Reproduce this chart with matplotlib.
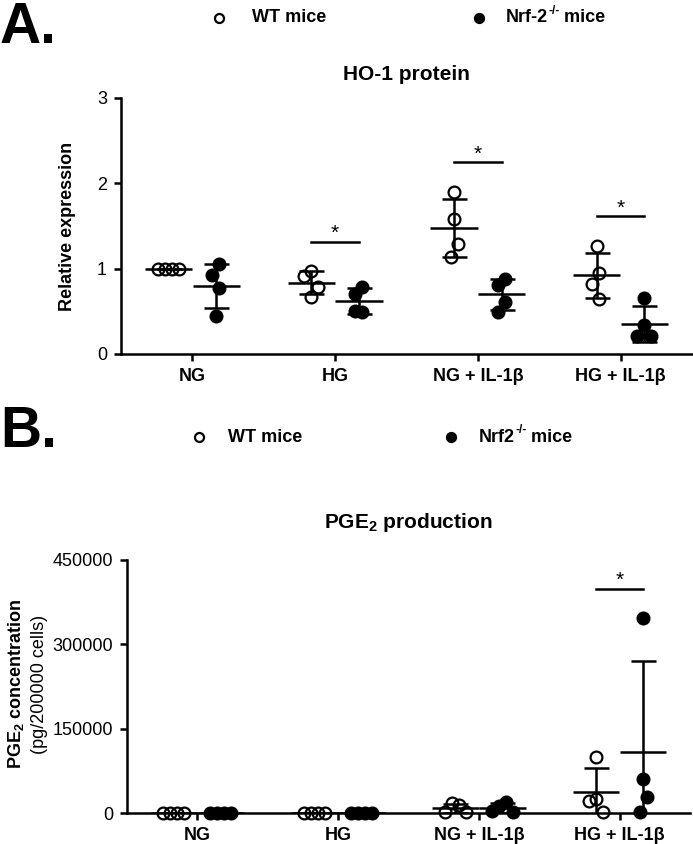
import numpy as np
import matplotlib
matplotlib.use('Agg')
import matplotlib.pyplot as plt
from matplotlib.lines import Line2D

plt.rcParams['font.family'] = ['Liberation Sans', 'DejaVu Sans']
plt.rcParams['mathtext.fontset'] = 'custom'
plt.rcParams['mathtext.rm'] = 'Liberation Sans'
plt.rcParams['mathtext.bf'] = 'Liberation Sans:bold'

categories = ['NG', 'HG', 'NG + IL-1β', 'HG + IL-1β']

# HO-1 protein, relative expression (4 mice per group)
ho1_wt = [[1.00, 1.00, 1.00, 1.00],
          [0.97, 0.91, 0.79, 0.67],
          [1.90, 1.58, 1.29, 1.14],
          [1.27, 0.95, 0.82, 0.64]]
ho1_nrf2 = [[1.05, 0.92, 0.77, 0.45],
            [0.79, 0.70, 0.49, 0.50],
            [0.88, 0.81, 0.61, 0.49],
            [0.66, 0.34, 0.21, 0.21]]
ho1_sig = [1, 2, 3]

# PGE2 concentration, pg / 200000 cells
pge2_wt = [[0, 0, 0, 0],
           [0, 0, 0, 0],
           [14000, 17000, 2000, 2000],
           [100000, 25000, 21000, 2000]]
pge2_nrf2 = [[0, 0, 0, 0],
             [0, 0, 0, 0],
             [20000, 12000, 2000, 3000],
             [347000, 60000, 28000, 1000]]
pge2_sig = [3]

W, H = 693, 844
LW = 1.8
SHIFT = 0.167     # half distance between WT and Nrf2 columns


def fx(px):
    return px / W


def fy(px):
    return 1 - px / H


def swarm(ax, vals, step=7, dx_min=7, dy_min=16):
    # simple beeswarm in pixel space; each crowded cluster is recentred
    ypx = np.array([ax.transData.transform((0, v))[1] for v in vals])
    offs = []
    for i, y in enumerate(ypx):
        k = 0
        while True:
            dx = (k + 1) // 2 * step * (-1 if k % 2 else 1)
            hit = any(((dx - offs[j]) / dx_min) ** 2 +
                      ((y - ypx[j]) / dy_min) ** 2 < 1 for j in range(i))
            if not hit:
                break
            k += 1
        offs.append(dx)
    offs = np.array(offs, dtype=float)
    order = np.argsort(ypx)
    comp = [order[0]]
    for k in list(order[1:]) + [None]:
        if k is not None and ypx[k] - ypx[comp[-1]] < dy_min:
            comp.append(k)
            continue
        offs[comp] -= offs[comp].mean()
        if k is not None:
            comp = [k]
    x_per_px = (ax.get_xlim()[1] - ax.get_xlim()[0]) / ax.bbox.width
    return offs * x_per_px


def draw_group(ax, x, vals, filled):
    vals = np.array(vals, dtype=float)
    xs = x + swarm(ax, vals)
    ax.plot(xs, vals, 'o', ms=8.5, mfc='black' if filled else 'none',
            mec='black', mew=1.6, clip_on=False, zorder=3)
    m = vals.mean()
    s = vals.std(ddof=1)
    ax.hlines(m, x - 0.165, x + 0.165, color='black', lw=LW, zorder=4)
    ax.errorbar(x, m, yerr=s, fmt='none', ecolor='black', elinewidth=LW,
                capsize=9, capthick=LW, zorder=4)
    return max(vals.max(), m + s)


def panel(ax, wt, nrf2, sig, ylim, yticks):
    ax.set_xlim(-0.5, 3.5)
    ax.set_ylim(*ylim)
    ax.set_yticks(yticks)
    ax.set_xticks(range(len(categories)))
    ax.set_xticklabels(categories, fontweight='bold', fontsize=13)
    for sp in ['top', 'right']:
        ax.spines[sp].set_visible(False)
    for sp in ['left', 'bottom']:
        ax.spines[sp].set_linewidth(LW)
    ax.tick_params(width=LW, length=5, labelsize=13, pad=5)
    rng = ylim[1] - ylim[0]
    for i in range(len(categories)):
        t1 = draw_group(ax, i - SHIFT, wt[i], False)
        t2 = draw_group(ax, i + SHIFT, nrf2[i], True)
        if i in sig:
            yb = max(t1, t2) + 0.115 * rng
            ax.plot([i - SHIFT, i + SHIFT], [yb, yb], color='black', lw=LW)
            ax.annotate('*', (i, yb), xytext=(0, 6), textcoords='offset points',
                        ha='center', va='center', fontsize=15)


def legend_row(ax, y, entries):
    fig = ax.figure
    for xm, xt, filled, base, sup, tail in entries:
        fig.add_artist(Line2D([fx(xm)], [fy(y)], marker='o', ms=6.5,
                              mfc='black' if filled else 'none', mec='black',
                              mew=1.6, transform=fig.transFigure))
        t1 = ax.annotate(base, (fx(xt), fy(y)), xycoords='figure fraction',
                         fontsize=13, fontweight='bold', ha='left', va='center')
        if sup:
            t2 = ax.annotate(sup, (1, 0.55), xycoords=t1, fontsize=8.5,
                             fontweight='bold', ha='left', va='bottom')
            ax.annotate(tail, (1, 0), xycoords=(t2, t1), fontsize=13,
                        fontweight='bold', ha='left', va='bottom')


fig = plt.figure(figsize=(W / 100, H / 100), dpi=100)

# ---- A. HO-1 protein
axA = fig.add_axes([fx(121), fy(354), fx(692 - 121), (354 - 98) / H])
panel(axA, ho1_wt, ho1_nrf2, ho1_sig, (0, 3), [0, 1, 2, 3])
fig.text(0.0, fy(43), 'A.', fontsize=41, fontweight='bold', va='baseline')
legend_row(axA, 18, [(219, 252, False, 'WT mice', '', ''),
                     (479, 506, True, 'Nrf-2', '-/-', ' mice')])
fig.text(fx(406), fy(75), 'HO-1 protein', fontsize=15, fontweight='bold',
         ha='center', va='center')
fig.text(fx(68), fy(226), 'Relative expression', fontsize=13,
         fontweight='bold', rotation=90, ha='center', va='center')

# ---- B. PGE2 production
axB = fig.add_axes([fx(127), fy(813), fx(690 - 127), (813 - 560) / H])
panel(axB, pge2_wt, pge2_nrf2, pge2_sig, (0, 450000),
      [0, 150000, 300000, 450000])
fig.text(0.0, fy(447), 'B.', fontsize=41, fontweight='bold', va='baseline')
legend_row(axB, 437, [(199, 228, False, 'WT mice', '', ''),
                      (451, 479, True, 'Nrf2', '-/-', ' mice')])
fig.text(fx(408), fy(522), r'PGE$_{\mathbf{2}}$ production', fontsize=15,
         fontweight='bold', ha='center', va='center')
fig.text(fx(16), fy(684), r'PGE$_{\mathbf{2}}$ concentration', fontsize=13,
         fontweight='bold', rotation=90, ha='center', va='center')
fig.text(fx(40), fy(684), '(pg/200000 cells)', fontsize=13,
         rotation=90, ha='center', va='center')

fig.savefig('out.png', dpi=100)
